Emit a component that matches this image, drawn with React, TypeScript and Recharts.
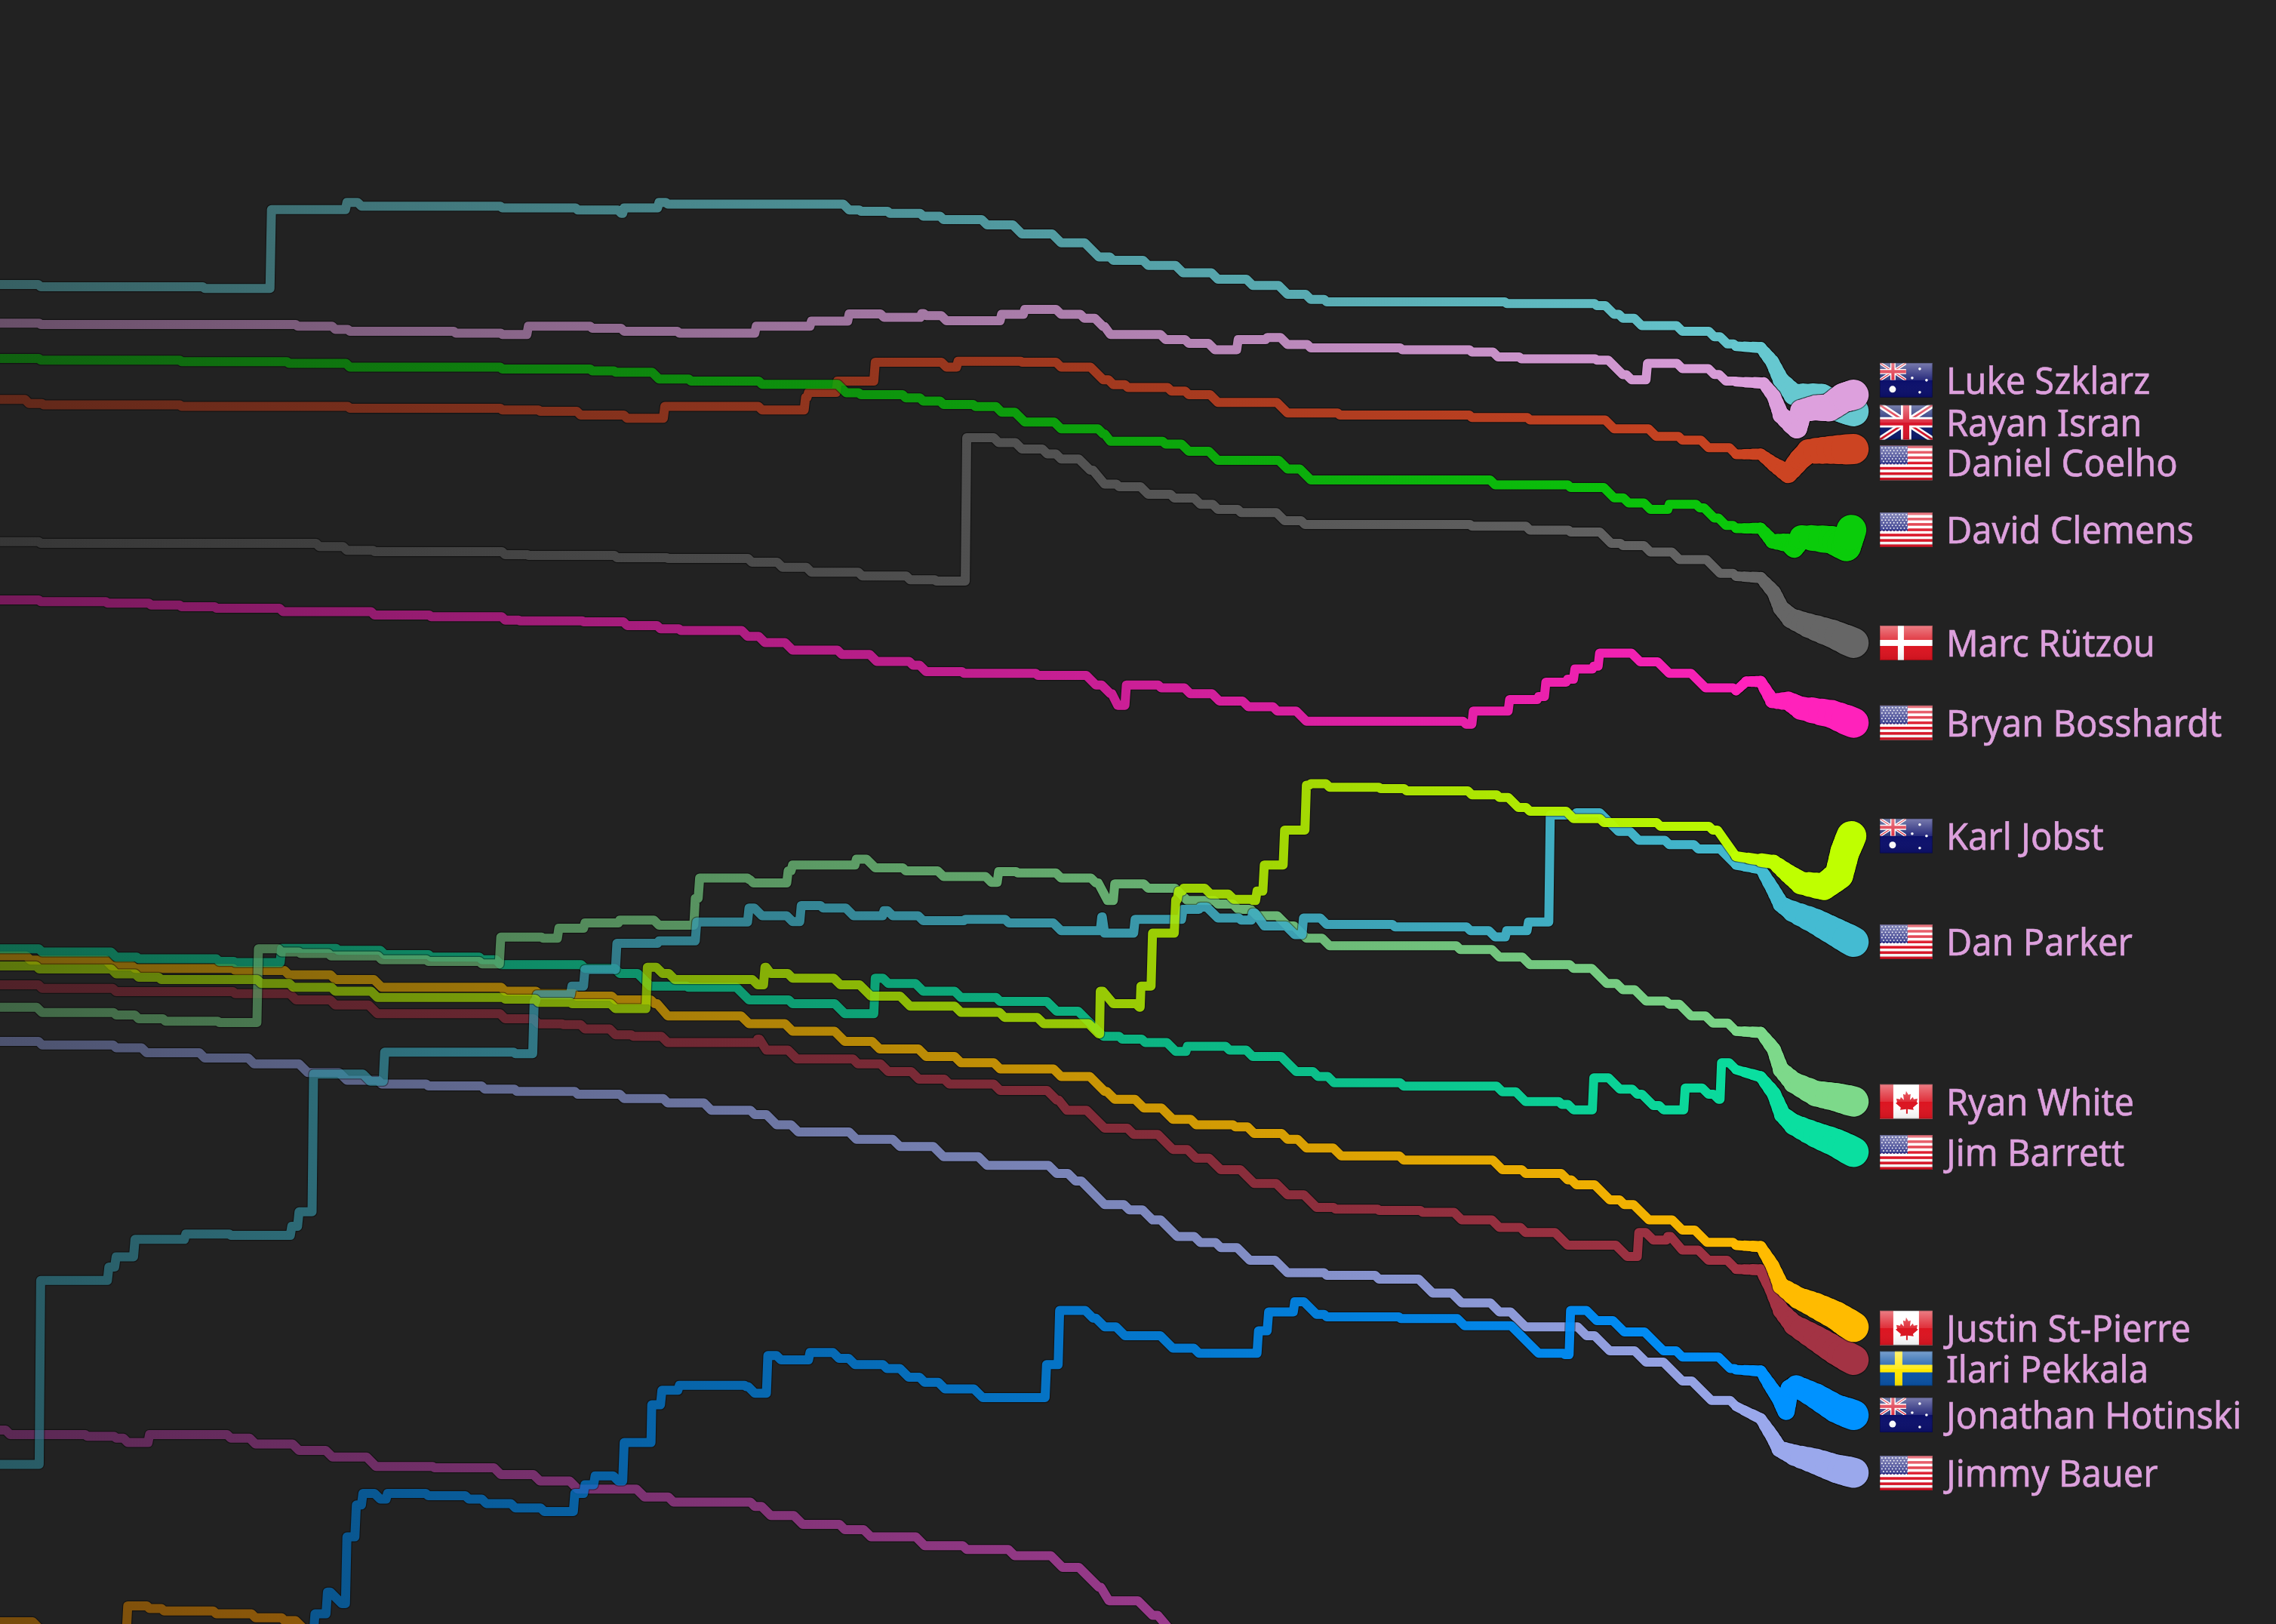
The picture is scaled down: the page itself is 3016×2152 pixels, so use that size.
import { LineChart, Line, XAxis, YAxis, ReferenceDot } from "recharts";

const WIDTH = 3016;
const HEIGHT = 2152;
const BG = "#222222";
const LABEL_X = 1295;
const TAIL_FROM = 1196;

type Pt = [number, number];

// values: [date position, time position], held until the next point
const purpleRun: Pt[] = [[0,985.4],[7,988.5],[60,989.7],[80,991],[88,994],[103,988.5],[159,991],[176,995],[206,999.4],[229,1004],[259,1010.4],[299,1011.3],[345,1016],[372,1020.5],[398,1026],[444,1031.5],[464,1035],[520,1038],[531,1044.3],[553,1050.4],[582,1054],[600,1059],[637,1065],[666,1067.7],[699,1072],[732,1080],[757,1093.7],[764,1103],[794,1113],[812,1130]];
const amberRun: Pt[] = [[0,1117.5],[30,1125],[86,1125],[88,1106.5],[103,1108.3],[113,1110],[149,1112],[176,1114.7],[196,1116.6],[212,1125]];
const jimmyBauer: Pt[] = [[0,717.6],[29,720],[80,722],[101,725.4],[141,729],[175,733],[212,739],[239,744.4],[263,747],[295,748.3],[334,750.5],[356,752],[398,754],[430,757],[460,760],[490,765],[520,768],[535,775],[550,780],[590,785],[620,790],[650,797],[680,803],[728,808.6],[741,813.8],[761,830],[778,833.7],[794,840.6],[811,852],[827,856.2],[841,859.7],[861,868.4],[887,877],[914,878.8],[950,881.4],[987,891],[1007,897.8],[1033,904],[1051,914.3],[1093,920.4],[1109,930.8],[1134,938.6],[1159,951.6],[1179,965],[1196,969],[1213,977.6],[1221,989.7],[1226,998.4],[1236.4,1002.7],[1251,1007],[1265,1012],[1277,1014.8]];
const ilariPekkala: Pt[] = [[0,678.6],[29,681],[80,683.3],[162,684.7],[204,689],[231,692.5],[260,698.5],[348,702],[371,705.5],[388,706],[403,709],[424,713],[436,714],[460,718.4],[522,716],[528,723.6],[549,729.7],[591,733],[612,738.4],[633,743.6],[654,747],[689,751.4],[728,758],[735,765],[761,777.4],[781,781.7],[808,792],[824,798],[841,806],[864,815.5],[887,823.3],[907,832],[920,833.2],[950,834],[980,835.4],[1007,840.6],[1033,845.8],[1051,849.3],[1080,858],[1121,865.8],[1129,849.3],[1139,854.5],[1149,852],[1159,861.4],[1177,868.4],[1196,874.5],[1213,875],[1220,887.5],[1227,903],[1236,913],[1251,922],[1265,930.8],[1277,937]];
const justinStPierre: Pt[] = [[0,658.7],[21,661.6],[77,665.6],[93,667.3],[162,668.7],[199,671.7],[231,675],[263,680.3],[348,683],[371,684.7],[397,686.4],[424,689],[451,691.6],[460,700],[516,705.4],[546,710.6],[582,717.6],[606,722.8],[638,728],[662,732.3],[689,736.6],[731,741.8],[761,752],[768,757.5],[788,763.5],[808,771.3],[824,775],[851,776.5],[864,781],[887,785],[900,791],[924,796.5],[967,799.4],[1035,806],[1051,808.6],[1080,813],[1086,816.4],[1109,826.8],[1119,830],[1136,840.6],[1159,847.6],[1176,856],[1196,858],[1213,859],[1221,872],[1227,886],[1239,894.4],[1251,899.6],[1265,906.5],[1277,914.3]];
const jimBarrett: Pt[] = [[0,653.8],[29,656],[80,659.5],[95.5,660.7],[151,662.5],[162,663.3],[194,653.5],[233,654.8],[265,657.8],[297,659.5],[332,661.3],[345,664.7],[403,667.3],[427,670.8],[448,679.5],[474,680.3],[516,689],[546,691.6],[582,698.5],[603,674],[612,677.7],[636,683],[662,687.3],[689,690],[728,696.8],[760,714],[773,716],[789,718.4],[810,724.5],[818,721],[847,723.6],[863,728],[893,738.4],[908,741.8],[919,746],[967,748.4],[1035,752.3],[1051,759],[1076,761],[1084,764.7],[1098,742.7],[1116,750.5],[1128,754],[1139,761.8],[1146,764.7],[1161,749.7],[1177,754],[1184,757.5],[1186,732.3],[1196,737],[1213,742],[1222,753.5],[1228,768],[1236,775],[1251,782],[1265,787.5],[1277,793.7]];
const ryanWhite: Pt[] = [[0,694],[29,697.7],[80,699.4],[95.5,702],[114,703.7],[151,704.6],[178,653.8],[194,656],[207,657],[228,658.7],[263,661.3],[295,662.5],[332,664.2],[345,645.7],[374,646.5],[385,639.6],[403,636],[427,634],[454,637.5],[479,619],[482,605],[516,606],[519,608.4],[543,600],[546,596],[590,592],[603,598],[624,600],[650,604],[683,608],[688,600.6],[701,601.5],[731,605],[755,608.4],[763,620.5],[768,609],[791,612],[818,620.5],[839,623],[853,626.6],[866,631],[887,638],[900,646.5],[916,651.7],[1006,654.3],[1033,659.5],[1054,664.7],[1084,667.3],[1107,677.7],[1118,682],[1134,689.8],[1150,692],[1165,700],[1180,705],[1196,710.5],[1213,711.4],[1222,723],[1227,737],[1236,746],[1251,753.5],[1265,756],[1277,759]];
const danParker: Pt[] = [[0,1009],[28,882.3],[75,873],[80,866],[93,854],[128,850.3],[159,851.2],[201,845],[206,835],[216,740],[255,745],[265,725],[355,726],[368,690],[370,685.5],[394,679.5],[403,668],[425,650],[454,648.3],[480,635.3],[516,625.7],[525,631],[546,635],[552,624],[567,625.7],[588,631],[609,627.5],[615,631],[636,634.4],[665,633.5],[695,636],[731,641.3],[759,631.8],[761,643],[782,633.5],[815,626.6],[827,625],[839,632.6],[855,634],[863,629],[871,638],[892,644],[898,632.6],[914,637],[961,638.7],[1013,641.3],[1030,645.6],[1038,641.3],[1053,635.3],[1068,561.6],[1086,560],[1115,572.9],[1129,579],[1150,582],[1170,585],[1196,596],[1213,598.6],[1221,612],[1227,623],[1235,628],[1251,635],[1265,642.5],[1277,649]];
const karlJobst: Pt[] = [[0,665.6],[27,667.7],[80,671],[95.5,673.4],[111,675],[180,677.7],[202,680.3],[231,683],[260,687.3],[348,688.5],[371,690.7],[394,691.6],[424,695],[446,666.5],[456.5,670.8],[465,675],[522,678.6],[527,666.5],[531,670.8],[546,674],[579,678.6],[600,686.4],[627,693.3],[662,697.6],[692,701],[719,705.4],[757,712.4],[758,683],[767,691.6],[785,694],[786,679.5],[794,643],[810,620],[812,614],[815.5,612],[834,616],[850,619.7],[863,620.5],[866,614],[871,596],[885,572],[900,541],[903,540],[916,542.5],[951,543.4],[969,545],[1014,547.7],[1033,549.5],[1046,556.4],[1054,559],[1084,564],[1105,566.8],[1144,569.4],[1180,572],[1196,590],[1222,594],[1232,602],[1241,608.5],[1256.5,611],[1267,603],[1271,587],[1275.5,576]];
const rayanIsran: Pt[] = [[0,196],[28,197.6],[141,198.8],[187,144.4],[239,139.5],[249,142.1],[346,143.3],[398,144.7],[428,147],[430,143.3],[454,139.5],[460,140.7],[585,144.7],[593,145.6],[613,147],[636,149],[650,151.3],[680,155],[704,161.2],[731,167.3],[757,177],[767,179.4],[791,182.9],[815,188],[839,192.4],[863,196.7],[887,202.8],[903,206.3],[914,208],[1038,209.2],[1100,210.6],[1112,216.6],[1118,219.3],[1131,224.4],[1159,228.3],[1181,232],[1190,237],[1196,238.6],[1213,239.5],[1221,249.4],[1227,262],[1236,271.8],[1255,273.5],[1267,280.7],[1277,283.4]];
const lukeSzklarz: Pt[] = [[0,222.7],[28,223.6],[205,224.8],[231,227],[241,228.3],[314,229.6],[346,230.5],[364,224.8],[408,226.2],[430,228.3],[468,229.6],[521,224.8],[559,221.3],[585,216.3],[609,218.7],[635,216],[638,217.5],[652,221],[690,216.6],[706,213.2],[731,216.6],[747,219.3],[760,225],[765,230.5],[803,234],[819,236.6],[837,241],[853,234],[873,232.6],[887,237.4],[903,239.7],[966,241],[1014,242.6],[1032,246],[1048,247.3],[1100,248.2],[1118,258.2],[1124,261.7],[1135,250.4],[1159,254],[1181,258],[1189,262.6],[1196,263],[1215,264],[1222,273],[1227,286],[1238,295],[1241,283],[1251,281],[1260,281],[1270,274],[1277,272]];
const danielCoelho: Pt[] = [[0,275.2],[20,278],[30,279],[125,280],[241,281.3],[346,282.5],[372,283.4],[400,286],[432,288.2],[458,280],[525,282.5],[555,273.8],[557,270.4],[577,262.6],[603,249.6],[652,253],[660,249],[704,249.6],[731,253],[760,261.7],[767,265],[777,267],[807,269.5],[819,272],[839,277.3],[887,284.6],[923,286],[1014,287.7],[1054,289.4],[1112,295.5],[1141,300.7],[1159,303.3],[1177,308.5],[1196,313],[1213,313],[1222,320],[1232,326.4],[1240,316.5],[1246,311],[1261,310],[1277,309.4]];
const davidClemens: Pt[] = [[0,247],[28,248.2],[125,249.2],[199,250.4],[241,253],[346,254.3],[408,255.6],[424,256.5],[454,261.2],[476,262.6],[525,264.8],[583,270.7],[593,272],[624,274.2],[636,276.4],[650,278.7],[672,280.2],[690,284],[706,290.8],[731,295.5],[760,299],[765,304],[803,306],[819,311],[839,317.2],[887,323.2],[903,330.7],[1030,334.1],[1082,335.9],[1112,343],[1122,346.6],[1137,351],[1150,347.5],[1171,350],[1181,357],[1189,362],[1196,364],[1213,364],[1221,373],[1232,374],[1236,377.4],[1241,370],[1262,372],[1272,376.5],[1275.5,365]];
const marcRutzou: Pt[] = [[0,373.2],[28,374.4],[220,376.6],[239,379.2],[258,380.1],[348,382.2],[364,382.7],[425,384.3],[460,384.8],[518,387.4],[539,390.9],[559,394.3],[594,396.9],[627,399.5],[645,400.4],[666,301.6],[688,305],[704,309.4],[721.5,312.8],[731,316.3],[751,324],[761,333.6],[771,335.4],[791,340.6],[809,343.2],[827,347.5],[839,351],[855,353.2],[885,358.8],[899,361.4],[1014,362.6],[1054,365.3],[1082,366.6],[1110,374.4],[1118,376],[1137,380.4],[1157,385.6],[1185,395],[1196,397],[1213,398],[1222,408],[1227,419],[1234,426],[1246,431],[1262,436.5],[1277,443]];
const bryanBosshardt: Pt[] = [[0,413.4],[28,414.6],[74,415.6],[104,416.9],[125,418.1],[149,419.1],[195,421.5],[258,423.8],[297,425],[348,427.3],[358,427.8],[402,428.5],[432,431],[455,433.3],[469,434.5],[515,438.5],[527,442.8],[546,448],[580,451],[604,455.8],[629,458.4],[638,462.8],[664,464],[715,465.4],[755,472],[765,478],[770,486],[776,472],[800,474],[820,478],[840,483],[860,487],[880,490],[900,497],[1010,499],[1015,490],[1035,490],[1040,482],[1060,480],[1065,470],[1080,468],[1085,461],[1098,459],[1102,450],[1112,450],[1130,456],[1150,464],[1175,474],[1196,476],[1203,469.6],[1213,469.6],[1221,483],[1232,483],[1241,488],[1262,492],[1277,498]];
const jonathanHotinski: Pt[] = [[212,1125],[217,1112],[225.6,1097],[235.5,1105],[239,1059],[245.5,1037],[250,1029],[262,1033],[267,1029],[295,1030.6],[323,1033],[335,1036],[355,1039],[375,1041.5],[396,1029],[403,1023],[410,1017],[426,1020.5],[430,994],[448,994],[449,968],[456,958],[468,954.6],[514,955.5],[520,960],[529,934],[538,937],[558,932],[578,936],[589,940.3],[611,943],[626,949],[637,952.5],[651,957],[677,963],[721,940.3],[730,903],[753,908.3],[761,914.3],[775,920.4],[808,929],[826,932.5],[867,917],[874,904],[892,897],[907,905.7],[914,907.4],[965,908.6],[1009,913.5],[1060,932.5],[1078,933.4],[1082,903],[1100,910],[1119,917.8],[1146,930.8],[1159,935],[1192,943],[1196,943.8],[1213,944.7],[1221,957],[1226,964],[1230.5,972.4],[1233,957],[1237.5,955],[1251,962],[1265,970.6],[1277,975]];

// draw order: later runs sit on top
const runs = [
  { id: "purple", pts: purpleRun, color: "#BB44AA" },
  { id: "amber", pts: amberRun, color: "#FF9900" },
  { id: "jimmy", pts: jimmyBauer, color: "#9AA8EC" },
  { id: "ilari", pts: ilariPekkala, color: "#A33344" },
  { id: "justin", pts: justinStPierre, color: "#FFBB00" },
  { id: "jim", pts: jimBarrett, color: "#0ADFA0" },
  { id: "ryan", pts: ryanWhite, color: "#7DD98A" },
  { id: "dan", pts: danParker, color: "#44BBD2" },
  { id: "karl", pts: karlJobst, color: "#BFFF00" },
  { id: "rayan", pts: rayanIsran, color: "#66C8D0" },
  { id: "luke", pts: lukeSzklarz, color: "#DDA0DD" },
  { id: "daniel", pts: danielCoelho, color: "#CC4422" },
  { id: "david", pts: davidClemens, color: "#0ACC0A" },
  { id: "marc", pts: marcRutzou, color: "#666666" },
  { id: "bryan", pts: bryanBosshardt, color: "#FF22BB" },
  { id: "jonathan", pts: jonathanHotinski, color: "#0092FF" },
];

const names = ["Luke Szklarz", "Rayan Isran", "Daniel Coelho", "David Clemens", "Marc Rützou", "Bryan Bosshardt", "Karl Jobst", "Dan Parker", "Ryan White", "Jim Barrett", "Justin St-Pierre", "Ilari Pekkala", "Jonathan Hotinski", "Jimmy Bauer"];
const labelY = [262, 291, 319, 365, 443, 498, 576, 649, 759, 794, 915, 943, 975, 1015];
const flags = ["au", "gb", "us", "us", "dk", "us", "au", "us", "ca", "us", "ca", "se", "au", "us"];

const toRows = (pts: Pt[]) => pts.map(([x, y]) => ({ x, y }));

// hold each value until the next one; small drops get a slanted riser, jumps stay steep
const stairs = (pts: Pt[]) => {
  const out: Pt[] = [pts[0]];
  for (let i = 1; i < pts.length; i++) {
    const [px, py] = pts[i - 1];
    const [x, y] = pts[i];
    const gap = x - px;
    const dy = y - py;
    const slant = dy > 0 && dy < 25 ? Math.min(dy, gap * 0.8) : Math.min(1, gap * 0.5);
    out.push([x - slant, py], [x, y]);
  }
  return out;
};

// stroke width along the x axis: the line gets fatter towards the end of the race
const widthStops = [[1196, 12], [1215, 15], [1226, 20], [1240, 28], [1255, 34], [1277, 40]];
const tailWidth = (x: number) => {
  for (let i = 1; i < widthStops.length; i++) {
    const [x0, w0] = widthStops[i - 1];
    const [x1, w1] = widthStops[i];
    if (x <= x1) return w0 + ((w1 - w0) * Math.max(x - x0, 0)) / (x1 - x0);
  }
  return 40;
};

const lineProps = {
  type: "linear" as const,
  dataKey: "y",
  dot: false,
  activeDot: false,
  legendType: "none" as const,
  isAnimationActive: false,
  strokeLinecap: "round" as const,
  strokeLinejoin: "round" as const,
};

// each tail segment is cut in a few pieces so the width can ramp up along it
const tailPieces = (pts: Pt[]) => {
  const out: { pts: Pt[]; w: number }[] = [];
  for (let i = 0; i < pts.length - 1; i++) {
    const [x0, y0] = pts[i];
    const [x1, y1] = pts[i + 1];
    for (let k = 0; k < 3; k++) {
      const a = k / 3;
      const b = (k + 1) / 3;
      const pa: Pt = [x0 + (x1 - x0) * a, y0 + (y1 - y0) * a];
      const pb: Pt = [x0 + (x1 - x0) * b, y0 + (y1 - y0) * b];
      out.push({ pts: [pa, pb], w: tailWidth(pb[0]) });
    }
  }
  return out;
};

const Gloss = ({ w, h }: { w: number; h: number }) => (
  <rect width={w} height={h} fill="url(#flagGloss)" />
);

const Stars = ({ pts, r }: { pts: number[][]; r: number }) => (
  <g fill="#fff">
    {pts.map((p, i) => (
      <circle key={i} cx={p[0]} cy={p[1]} r={r} />
    ))}
  </g>
);

const UnionJack = ({ w, h }: { w: number; h: number }) => (
  <g>
    <rect width={w} height={h} fill="#0b1a6b" />
    <path d={`M0 0L${w} ${h}M${w} 0L0 ${h}`} stroke="#fff" strokeWidth={h * 0.17} />
    <path d={`M0 0L${w} ${h}M${w} 0L0 ${h}`} stroke="#d8142a" strokeWidth={h * 0.06} />
    <path d={`M${w / 2} 0V${h}M0 ${h / 2}H${w}`} stroke="#fff" strokeWidth={h * 0.3} />
    <path d={`M${w / 2} 0V${h}M0 ${h / 2}H${w}`} stroke="#d8142a" strokeWidth={h * 0.18} />
  </g>
);

const Flag = ({ code }: { code: string }) => {
  const w = 70;
  const h = 46;
  let body = null;
  if (code === "us") {
    const stars: number[][] = [];
    for (let r = 0; r < 7; r++) for (let c = 0; c < 8; c++) stars.push([3 + c * 4.6 + (r % 2) * 2, 3 + r * 3.6]);
    body = (
      <g>
        <rect width={w} height={h} fill="#fff" />
        {[0, 2, 4, 6, 8, 10, 12].map((s) => (
          <rect key={s} y={(s * h) / 13} width={w} height={h / 13} fill="#dc1426" />
        ))}
        <rect width={37} height={(h * 7) / 13} fill="#2a2f86" />
        <Stars pts={stars} r={0.9} />
      </g>
    );
  } else if (code === "au") {
    body = (
      <g>
        <rect width={w} height={h} fill="#0b0f6b" />
        <svg width={35} height={23}>
          <UnionJack w={35} h={23} />
        </svg>
        <Stars pts={[[17, 35]]} r={4.5} />
        <Stars pts={[[53, 8], [43, 20], [62, 23], [53, 39]]} r={1.8} />
      </g>
    );
  } else if (code === "gb") {
    body = <UnionJack w={w} h={h} />;
  } else if (code === "dk") {
    body = (
      <g>
        <rect width={w} height={h} fill="#dc1420" />
        <rect x={24} width={8} height={h} fill="#fff" />
        <rect y={19} width={w} height={8} fill="#fff" />
      </g>
    );
  } else if (code === "ca") {
    body = (
      <g>
        <rect width={w} height={h} fill="#fff" />
        <rect width={18} height={h} fill="#dc1420" />
        <rect x={52} width={18} height={h} fill="#dc1420" />
        <path
          d="M35 9l3 5 3-1-1 8 4-4 1 3 5-1-1 5 2 1-7 6 1 3-8-1v6h-2v-6l-8 1 1-3-7-6 2-1-1-5 5 1 1-3 4 4-1-8 3 1z"
          fill="#dc1420"
        />
      </g>
    );
  } else if (code === "se") {
    body = (
      <g>
        <rect width={w} height={h} fill="#0a52a5" />
        <rect x={20} width={10} height={h} fill="#ffe800" />
        <rect y={18} width={w} height={10} fill="#ffe800" />
      </g>
    );
  }
  return (
    <svg width={w} height={h} overflow="hidden">
      {body}
      <Gloss w={w} h={h} />
      <rect x={0.5} y={0.5} width={w - 1} height={h - 1} fill="none" stroke="#000" strokeOpacity={0.25} />
    </svg>
  );
};

const NameTag = (props: any) => {
  const { cx, cy, idx } = props;
  return (
    <g transform={`translate(${cx},${cy})`}>
      <g transform="translate(0,-23)">
        <Flag code={flags[idx]} />
      </g>
      <g transform="translate(88,0) scale(0.94,1)">
        <text x={0} y={18} fontFamily="'Noto Sans'" fontSize={50} fill="#DDA0DD" stroke="#DDA0DD" strokeWidth={0.6}>
          {names[idx]}
        </text>
      </g>
    </g>
  );
};

export default function App() {
  return (
    <div style={{ position: "fixed", left: 0, top: 0, width: WIDTH, height: HEIGHT, background: BG }}>
      <LineChart width={WIDTH} height={HEIGHT} margin={{ top: 0, right: 0, bottom: 0, left: 0 }}>
        <defs>
          <linearGradient id="flagGloss" x1="0" y1="0" x2="0" y2="1">
            <stop offset="0" stopColor="#fff" stopOpacity={0.45} />
            <stop offset="0.5" stopColor="#fff" stopOpacity={0.12} />
            <stop offset="0.5" stopColor="#fff" stopOpacity={0} />
            <stop offset="1" stopColor="#000" stopOpacity={0.08} />
          </linearGradient>
          {runs.map((r) => (
            <linearGradient key={r.id} id={`fade-${r.id}`} gradientUnits="userSpaceOnUse" x1={0} y1={0} x2={2400} y2={0}>
              <stop offset="0" stopColor={r.color} stopOpacity={0.42} />
              <stop offset="1" stopColor={r.color} stopOpacity={1} />
            </linearGradient>
          ))}
        </defs>
        <XAxis type="number" dataKey="x" domain={[0, 1568]} hide allowDataOverflow />
        <YAxis type="number" dataKey="y" domain={[0, 1119]} reversed hide allowDataOverflow />
        {runs.flatMap((r) => {
          const cut = r.pts.findIndex((p) => p[0] >= TAIL_FROM);
          const main = stairs(cut < 0 ? r.pts : r.pts.slice(0, cut + 1));
          const tail = cut < 0 ? [] : tailPieces(r.pts.slice(cut));
          return [
            <Line key={`${r.id}-edge`} {...lineProps} data={toRows(main)} stroke="#000" strokeOpacity={0.4} strokeWidth={14.5} />,
            ...tail.map((s, i) => (
              <Line key={`${r.id}-edge-${i}`} {...lineProps} data={toRows(s.pts)} stroke="#000" strokeOpacity={0.4} strokeWidth={s.w + 2.5} />
            )),
            <Line key={`${r.id}-main`} {...lineProps} data={toRows(main)} stroke={`url(#fade-${r.id})`} strokeWidth={12} />,
            ...tail.map((s, i) => (
              <Line key={`${r.id}-tail-${i}`} {...lineProps} data={toRows(s.pts)} stroke={r.color} strokeWidth={s.w} />
            )),
          ];
        })}
        {names.map((n, i) => (
          <ReferenceDot
            key={n}
            x={LABEL_X}
            y={labelY[i]}
            ifOverflow="visible"
            shape={(p: any) => <NameTag {...p} idx={i} />}
          />
        ))}
      </LineChart>
    </div>
  );
}
